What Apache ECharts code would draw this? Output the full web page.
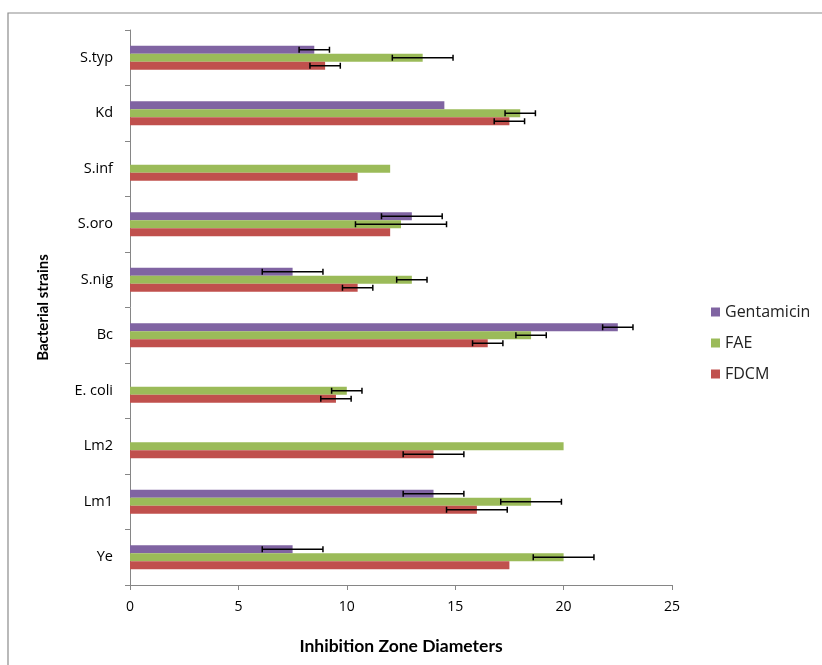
<!DOCTYPE html>
<html>
<head>
<meta charset="utf-8">
<script src="https://cdn.jsdelivr.net/npm/echarts@6/dist/echarts.min.js"></script>
<style>
  html, body { margin: 0; padding: 0; background: #fff; }
  #chart { width: 822px; height: 665px; }
</style>
</head>
<body>
<div id="chart"></div>
<script>
// Bacterial strains, listed bottom to top along the category axis
const categories = ['Ye', 'Lm1', 'Lm2', 'E. coli', 'Bc', 'S.nig', 'S.oro', 'S.inf', 'Kd', 'S.typ'];

// Inhibition zone diameters per treatment (null = not tested)
const gentamicin = [7.5, 14.0, null, null, 22.5, 7.5, 13.0, null, 14.5, 8.5];
const fae        = [20.0, 18.5, 20.0, 10.0, 18.5, 13.0, 12.5, 12.0, 18.0, 13.5];
const fdcm       = [17.5, 16.0, 14.0, 9.5, 16.5, 10.5, 12.0, 10.5, 17.5, 9.0];

// Error bar half-widths (null = no error bar shown)
const gentamicinErr = [1.4, 1.4, null, null, 0.7, 1.4, 1.4, null, null, 0.7];
const faeErr        = [1.4, 1.4, null, 0.7, 0.7, 0.7, 2.1, null, 0.7, 1.4];
const fdcmErr       = [null, 1.4, 1.4, 0.7, 0.7, 0.7, null, null, 0.7, 0.7];

const xTicks = { min: 0, max: 25, interval: 5 };

const seriesNames = ['Gentamicin', 'FAE', 'FDCM'];
const seriesColors = ['#8064A2', '#9BBB59', '#C0504D'];
const seriesValues = [gentamicin, fae, fdcm];
const seriesErrors = [gentamicinErr, faeErr, fdcmErr];

const BAR_W = 8;
const FONT = '"Open Sans", Lato, sans-serif';
const TITLE_FONT = 'Lato, "Open Sans", sans-serif';

const chart = echarts.init(document.getElementById('chart'), null, { renderer: 'canvas' });

const barSeries = seriesNames.map((name, i) => ({
  name: name,
  type: 'bar',
  barWidth: BAR_W,
  barGap: '0%',
  itemStyle: { color: seriesColors[i] },
  data: seriesValues[i],
  z: 2
}));

// Error bar data: [categoryIndex, value, error, seriesIndex]
const errData = [];
seriesValues.forEach((vals, s) => {
  vals.forEach((v, c) => {
    const e = seriesErrors[s][c];
    if (v != null && e != null) errData.push([c, v, e, s]);
  });
});

const errorSeries = {
  type: 'custom',
  name: 'errors',
  z: 5,
  silent: true,
  encode: { x: 1, y: 0 },
  data: errData,
  renderItem: function (params, api) {
    const c = api.value(0), v = api.value(1), e = api.value(2), s = api.value(3);
    const center = api.coord([v, c]);
    const lo = api.coord([v - e, c]);
    const hi = api.coord([v + e, c]);
    const nSeries = seriesNames.length;
    const y = center[1] - (nSeries * BAR_W) / 2 + s * BAR_W + BAR_W / 2;
    const cap = 3;
    const style = { stroke: '#000', lineWidth: 1.5 };
    return {
      type: 'group',
      children: [
        { type: 'line', shape: { x1: lo[0], y1: y, x2: hi[0], y2: y }, style: style },
        { type: 'line', shape: { x1: lo[0], y1: y - cap, x2: lo[0], y2: y + cap }, style: style },
        { type: 'line', shape: { x1: hi[0], y1: y - cap, x2: hi[0], y2: y + cap }, style: style }
      ]
    };
  }
};

chart.setOption({
  animation: false,
  backgroundColor: '#fff',
  textStyle: { fontFamily: FONT },
  graphic: [{
    type: 'rect',
    shape: { x: 8, y: 13, width: 830, height: 670 },
    style: { fill: 'none', stroke: '#8c8c8c', lineWidth: 1.2 },
    silent: true,
    z: -1
  }],
  grid: { left: 130, right: 150, top: 30, bottom: 80, containLabel: false },
  legend: {
    orient: 'vertical',
    left: 706,
    top: 299,
    itemWidth: 9,
    itemHeight: 9,
    itemGap: 15,
    icon: 'rect',
    data: seriesNames,
    textStyle: { fontFamily: FONT, fontSize: 16, color: '#222' }
  },
  xAxis: {
    type: 'value',
    min: xTicks.min,
    max: xTicks.max,
    interval: xTicks.interval,
    name: 'Inhibition Zone Diameters',
    nameLocation: 'middle',
    nameGap: 52,
    nameTextStyle: { fontFamily: TITLE_FONT, fontSize: 17.5, fontWeight: 'bold', color: '#000' },
    axisLine: { show: true, lineStyle: { color: '#868686', width: 1 } },
    axisTick: { show: true, length: 5, lineStyle: { color: '#868686' } },
    axisLabel: { margin: 15, fontSize: 14, color: '#000', fontFamily: FONT },
    splitLine: { show: false }
  },
  yAxis: {
    type: 'category',
    data: categories,
    name: 'Bacterial strains',
    nameLocation: 'middle',
    nameRotate: 90,
    nameGap: 79,
    nameTextStyle: { fontFamily: TITLE_FONT, fontSize: 15, fontWeight: 'bold', color: '#000' },
    axisLine: { show: true, lineStyle: { color: '#868686', width: 1 } },
    axisTick: { show: true, length: 5, lineStyle: { color: '#868686' } },
    axisLabel: { margin: 17, fontSize: 14.5, color: '#000', fontFamily: FONT },
    splitLine: { show: false }
  },
  series: barSeries.concat([errorSeries])
});
</script>
</body>
</html>
